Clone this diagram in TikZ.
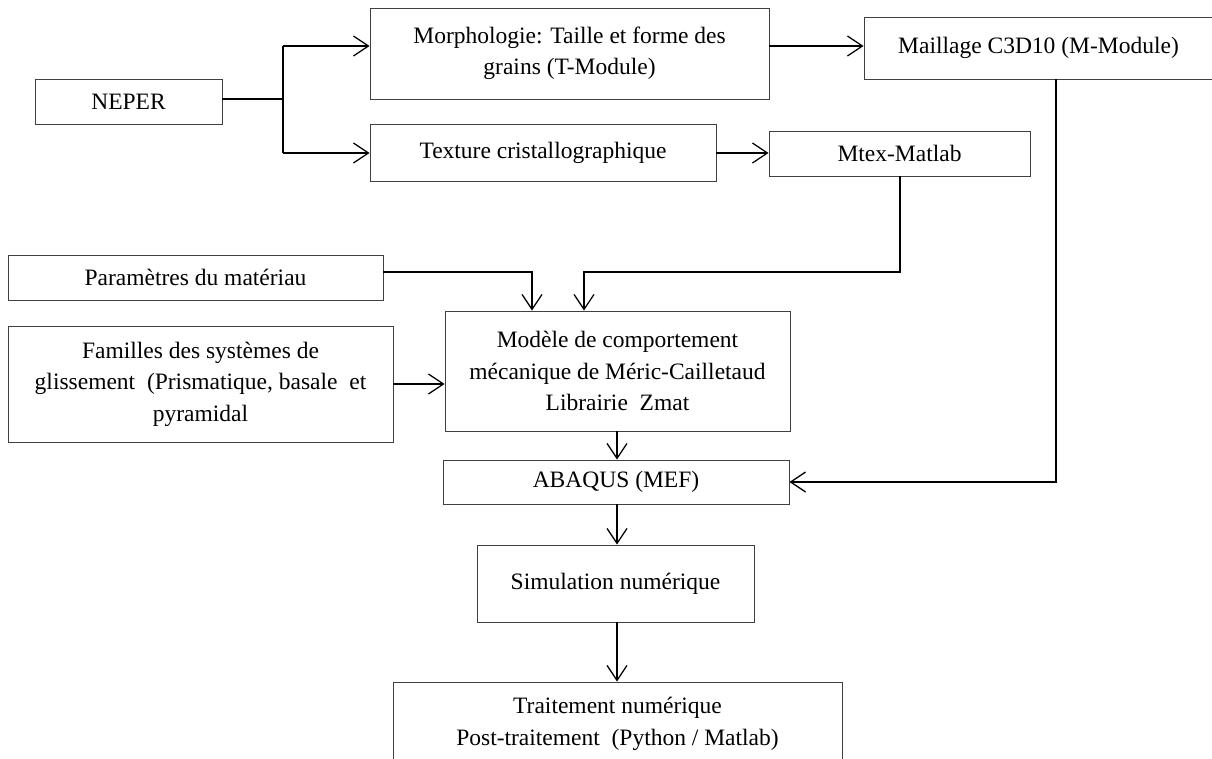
\documentclass[tikz,border=0pt]{standalone}
\usepackage{fontspec}
\setmainfont{Liberation Serif}
\usetikzlibrary{arrows.meta}
\begin{document}
\begin{tikzpicture}[x=1pt,y=-1pt,
  box/.style={draw=black!75, line width=0.8pt, inner sep=0pt, align=center,
    font=\fontsize{23.5}{31.5}\selectfont},
  conn/.style={line width=1.3pt, black},
  arr/.style={conn, -{Straight Barb[length=15pt,width=20pt,line width=1.3pt]}}]
\useasboundingbox (0,0) rectangle (1212,759);
% boxes
\node[box, minimum width=187pt, minimum height=45pt] (neper) at (128.5,101.5) {NEPER};
\node[box, minimum width=399pt, minimum height=91pt] (morph) at (569.5,53.5) {Morphologie: Taille et forme des\\grains (T-Module)};
\node[box, minimum width=346pt, minimum height=57pt] (texture) at (543,152.5) {Texture cristallographique};
\node[box, minimum width=349pt, minimum height=62pt] (maillage) at (1038.5,48) {Maillage C3D10 (M-Module)};
\node[box, minimum width=261pt, minimum height=45pt] (mtex) at (899.5,153.5) {Mtex-Matlab};
\node[box, minimum width=375pt, minimum height=45pt] (param) at (195.5,277.5) {Paramètres du matériau};
\node[box, minimum width=385pt, minimum height=116pt] (familles) at (200.5,384) {Familles des systèmes de\\glissement\ \ (Prismatique, basale\ \ et\\pyramidal};
\node[box, minimum width=345pt, minimum height=120pt] (modele) at (617.5,371) {Modèle de comportement\\mécanique de Méric-Cailletaud\\Librairie\ \ Zmat};
\node[box, minimum width=346pt, minimum height=44pt] (abaqus) at (616,482) {ABAQUS (MEF)};
\node[box, minimum width=277pt, minimum height=77pt] (simul) at (615.5,583.5) {Simulation numérique};
\node[box, minimum width=449pt, minimum height=84pt] (trait) at (617.5,724) {Traitement numérique\\Post-traitement\ \ (Python / Matlab)};
% helper coordinates
\coordinate (jn) at (283,99);
\coordinate (jt) at (283,46);
\coordinate (jb) at (283,153);
\coordinate (mx) at (900,272);
\coordinate (mxin) at (584,272);
\coordinate (px) at (532,272);
\coordinate (ml) at (1056,482);
% connectors
\draw[conn] (neper.east |- jn) -- (jn);
\draw[conn] (jt) -- (jb);
\draw[arr] (jt) -- (jt -| morph.west);
\draw[arr] (jb) -- (jb -| texture.west);
\draw[arr] (morph.east |- 0,46) -- (maillage.west |- 0,46);
\draw[arr] (texture.east |- jb) -- (mtex.west |- jb);
\draw[arr] (mtex.south -| mx) -- (mx) -- (mxin) -- (mxin |- modele.north);
\draw[arr] (param.east |- px) -- (px) -- (px |- modele.north);
\draw[arr] (familles.east) -- (familles.east -| modele.west);
\draw[arr] (modele.south -| 617,0) -- (abaqus.north -| 617,0);
\draw[arr] (maillage.south -| ml) -- (ml) -- (abaqus.east);
\draw[arr] (abaqus.south -| 617,0) -- (simul.north -| 617,0);
\draw[arr] (simul.south -| 617,0) -- (trait.north -| 617,0);
\end{tikzpicture}
\end{document}
